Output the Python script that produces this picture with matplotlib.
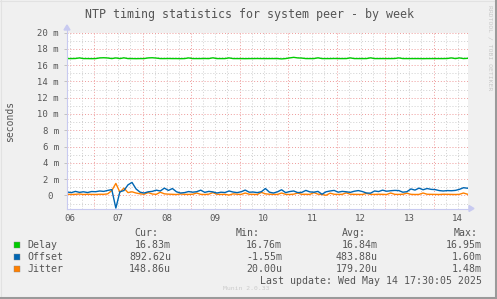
import matplotlib
matplotlib.use("Agg")
import matplotlib.pyplot as plt
import numpy as np
from matplotlib.lines import Line2D
from matplotlib.patches import Polygon, Rectangle

# ---------------- data (milliseconds; x in days since May 06 00:00) ----------------
start_day = 0.45
step_hours = 2.0

delay = [16.80, 16.80, 16.81, 16.88, 16.80, 16.80, 16.79, 16.80, 16.88, 16.90,
         16.87, 16.80, 16.88, 16.80, 16.89, 16.80, 16.80, 16.79, 16.80, 16.80,
         16.88, 16.90, 16.86, 16.80, 16.80, 16.81, 16.80, 16.80, 16.79, 16.80,
         16.88, 16.80, 16.80, 16.80, 16.81, 16.80, 16.89, 16.80, 16.80, 16.80,
         16.88, 16.80, 16.80, 16.80, 16.79, 16.80, 16.80, 16.81, 16.80, 16.80,
         16.80, 16.80, 16.80, 16.76, 16.80, 16.88, 16.95, 16.88, 16.86, 16.80,
         16.80, 16.80, 16.89, 16.80, 16.80, 16.80, 16.81, 16.80, 16.80, 16.80,
         16.88, 16.80, 16.80, 16.80, 16.80, 16.89, 16.80, 16.80, 16.80, 16.80,
         16.80, 16.81, 16.88, 16.80, 16.80, 16.80, 16.80, 16.80, 16.79, 16.80,
         16.80, 16.80, 16.80, 16.80, 16.81, 16.88, 16.80, 16.88, 16.80, 16.83]

offset = [0.42, 0.35, 0.50, 0.38, 0.45, 0.36, 0.48,
          0.46, 0.55, 0.50, 0.62, 0.72,
          -1.55,
          0.45, 0.60, 1.30, 1.60, 0.80, 0.40,
          0.30, 0.45, 0.50, 0.65, 0.55, 0.90, 0.62, 0.85, 0.45, 0.30, 0.35, 0.48,
          0.40, 0.46, 0.65, 0.38, 0.50, 0.44, 0.30, 0.40, 0.36, 0.55, 0.42, 0.35,
          0.45, 0.66, 0.40, 0.42, 0.35, 0.46, 0.85, 0.40, 0.30, 0.45, 0.70, 0.35,
          0.48, 0.55, 0.35, 0.38, 0.62, 0.44, 0.40, 0.50, 0.15, 0.45, 0.55, 0.62,
          0.40, 0.50, 0.45, 0.38, 0.52, 0.60, 0.48, 0.30, 0.28, 0.55, 0.48, 0.65,
          0.52, 0.58, 0.62, 0.60, 0.40, 0.46, 0.80, 0.66, 0.90, 0.70, 0.85, 0.75,
          0.72, 0.60, 0.55, 0.60, 0.58, 0.62, 0.75, 0.95, 0.89]

jitter = [0.15, 0.12, 0.14, 0.18, 0.12, 0.15, 0.13,
          0.12, 0.15, 0.14, 0.20, 0.60,
          1.48,
          0.40, 0.90, 0.35, 0.45, 0.30, 0.20,
          0.15, 0.35, 0.18, 0.14, 0.40, 0.20, 0.16, 0.14, 0.12, 0.18, 0.14, 0.13,
          0.15, 0.30, 0.14, 0.12, 0.16, 0.35, 0.15, 0.13, 0.14, 0.05, 0.20, 0.15,
          0.13, 0.30, 0.15, 0.14, 0.12, 0.38, 0.20, 0.15, 0.14, 0.13, 0.30, 0.14,
          0.12, 0.16, 0.30, 0.14, 0.15, 0.13, 0.35, 0.16, 0.12, 0.02, 0.28, 0.15,
          0.13, 0.14, 0.32, 0.15, 0.14, 0.13, 0.12, 0.25, 0.14, 0.13, 0.15, 0.14,
          0.12, 0.30, 0.14, 0.13, 0.15, 0.28, 0.14, 0.12, 0.13, 0.30, 0.15, 0.14,
          0.13, 0.12, 0.15, 0.14, 0.13, 0.12, 0.14, 0.30, 0.15]

day_labels = ["06", "07", "08", "09", "10", "11", "12", "13", "14"]
y_tick_values = [0, 2, 4, 6, 8, 10, 12, 14, 16, 18, 20]
y_tick_labels = ["0 ", "2 m", "4 m", "6 m", "8 m", "10 m", "12 m", "14 m",
                 "16 m", "18 m", "20 m"]

series_names = ["Delay", "Offset", "Jitter"]
series_colors = ["#00CC00", "#0066B3", "#FF8000"]
cur_vals = ["16.83m", "892.62u", "148.86u"]
min_vals = ["16.76m", "-1.55m", "20.00u"]
avg_vals = ["16.84m", "483.88u", "179.20u"]
max_vals = ["16.95m", "1.60m", "1.48m"]

title = "NTP timing statistics for system peer - by week"
last_update = "Last update: Wed May 14 17:30:05 2025"

# ---------------- figure ----------------
W, H = 497, 299
fig = plt.figure(figsize=(W / 100, H / 100), dpi=100)
fig.patch.set_facecolor("#F0F0F0")

def fx(x):
    return x / W

def fy(y):
    return 1 - y / H

MONO = "DejaVu Sans Mono"
TXT = "#555555"

# plot area in pixels
L, R, T, B = 67, 468, 32.5, 208.5
ax = fig.add_axes([fx(L), fy(B), fx(R) - fx(L), fy(T) - fy(B)])
ax.set_facecolor("white")
xmin, xmax = 0.443, 8.71
ymin, ymax = -1.6, 20.0
ax.set_xlim(xmin, xmax)
ax.set_ylim(ymin, ymax)
for s in ax.spines.values():
    s.set_visible(False)

dot = (0, (1, 2))
# minor grid
for yv in np.arange(-1, 20.5, 1):
    if yv % 2 != 0:
        ax.axhline(yv, color="#CFCFCF", lw=0.7, ls=dot, zorder=1)
for xv in np.arange(0.5, 8.75, 0.25):
    if abs(xv - round(xv)) > 1e-6:
        ax.axvline(xv, color="#CFCFCF", lw=0.7, ls=dot, zorder=1)
# major grid
for yv in y_tick_values:
    ax.axhline(yv, color="#EE9A9A", lw=0.7, ls=dot, zorder=1.5)
for xv in range(1, 9):
    ax.axvline(xv, color="#EE9A9A", lw=0.7, ls=dot, zorder=1.5)

t = start_day + np.arange(len(offset)) * step_hours / 24.0
ax.plot(t, delay, color=series_colors[0], lw=1.0, zorder=3)
ax.plot(t, offset, color=series_colors[1], lw=1.0, zorder=4)
ax.plot(t, jitter, color=series_colors[2], lw=1.0, zorder=3.5)

ax.set_yticks(y_tick_values)
ax.set_yticklabels(y_tick_labels, family=MONO, fontsize=6.4, color=TXT)
ax.set_xticks([d + 0.5 for d in range(len(day_labels))])
ax.set_xticklabels(day_labels, family=MONO, fontsize=6.6, color=TXT)
ax.tick_params(axis="y", length=2, width=0.6, color="#BBBBBB", pad=4)
ax.tick_params(axis="x", length=0, pad=4)

# axes with arrows
axc = "#C8CAF0"
fig.add_artist(Line2D([fx(L), fx(472)], [fy(B), fy(B)], color=axc, lw=0.8))
fig.add_artist(Line2D([fx(L), fx(L)], [fy(B), fy(28)], color=axc, lw=0.8))
fig.add_artist(Polygon([[fx(474), fy(B)], [fx(469), fy(B - 3)], [fx(469), fy(B + 3)]],
                       closed=True, color=axc, transform=fig.transFigure))
fig.add_artist(Polygon([[fx(L), fy(25)], [fx(L - 3), fy(30)], [fx(L + 3), fy(30)]],
                       closed=True, color=axc, transform=fig.transFigure))

# texts
fig.text(fx(250), fy(14.5), title, family=MONO, fontsize=8.4, color=TXT,
         ha="center", va="center")
fig.text(fx(10), fy(121), "seconds", family=MONO, fontsize=7, color=TXT,
         rotation=90, ha="center", va="center")
fig.text(fx(490), fy(5), "RRDTOOL / TOBI OETIKER", family=MONO, fontsize=4.6,
         color="#C8C8C8", rotation=270, ha="center", va="top")

LF = 7.1
rows_y = [245, 257, 269]
fig.text(fx(158), fy(233), "Cur:", family=MONO, fontsize=LF, color=TXT, ha="right", va="center")
fig.text(fx(260), fy(233), "Min:", family=MONO, fontsize=LF, color=TXT, ha="right", va="center")
fig.text(fx(366), fy(233), "Avg:", family=MONO, fontsize=LF, color=TXT, ha="right", va="center")
fig.text(fx(478), fy(233), "Max:", family=MONO, fontsize=LF, color=TXT, ha="right", va="center")
for i, name in enumerate(series_names):
    y = rows_y[i]
    fig.add_artist(Rectangle((fx(14), fy(y + 3)), fx(6), fy(0) - fy(6),
                             transform=fig.transFigure, facecolor=series_colors[i],
                             edgecolor="#888888", lw=0.3))
    fig.text(fx(27), fy(y), name, family=MONO, fontsize=LF, color=TXT, ha="left", va="center")
    fig.text(fx(171), fy(y), cur_vals[i], family=MONO, fontsize=LF, color=TXT, ha="right", va="center")
    fig.text(fx(282), fy(y), min_vals[i], family=MONO, fontsize=LF, color=TXT, ha="right", va="center")
    fig.text(fx(378), fy(y), avg_vals[i], family=MONO, fontsize=LF, color=TXT, ha="right", va="center")
    fig.text(fx(482), fy(y), max_vals[i], family=MONO, fontsize=LF, color=TXT, ha="right", va="center")

fig.text(fx(482), fy(281.5), last_update, family=MONO, fontsize=LF, color=TXT,
         ha="right", va="center")
fig.text(fx(246), fy(288), "Munin 2.0.33", family=MONO, fontsize=4.6, color="#CCCCCC",
         ha="center", va="center")

# 3D border
fig.add_artist(Line2D([0, 1], [fy(0.5), fy(0.5)], color="#E2E2E2", lw=0.8))
fig.add_artist(Line2D([fx(0.5), fx(0.5)], [0, 1], color="#E2E2E2", lw=0.8))
fig.add_artist(Line2D([0, 1], [fy(297.5), fy(297.5)], color="#9A9A9A", lw=2.2))
fig.add_artist(Line2D([fx(495.5), fx(495.5)], [0, 1], color="#9A9A9A", lw=2.2))

fig.savefig("out.png", dpi=100, facecolor=fig.get_facecolor())
